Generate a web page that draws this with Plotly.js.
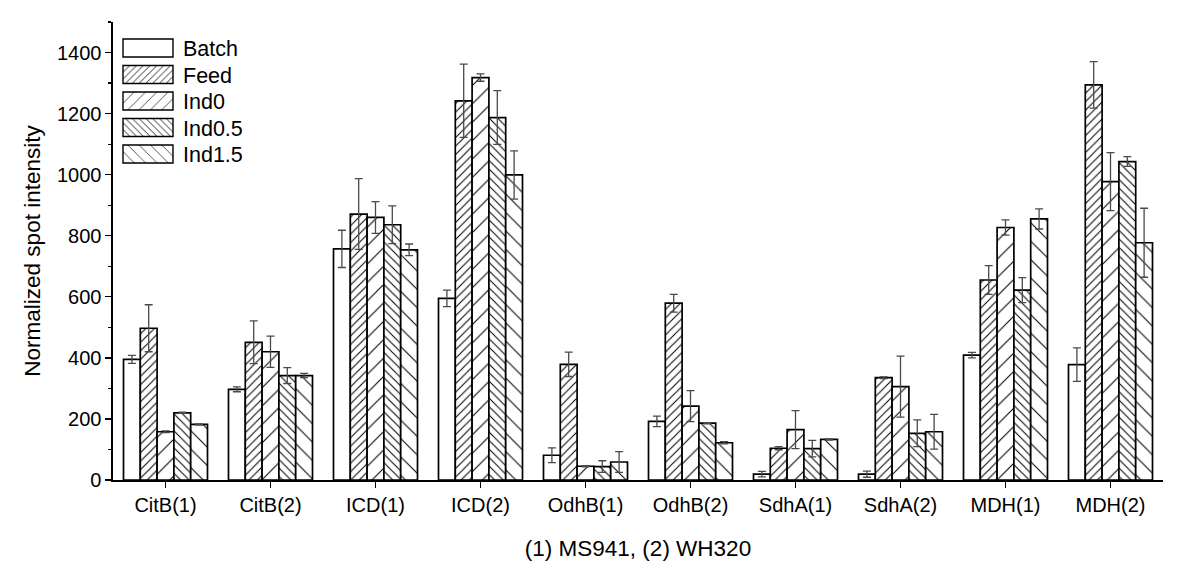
<!DOCTYPE html>
<html>
<head>
<meta charset="utf-8">
<script src="https://cdn.plot.ly/plotly-3.0.1.min.js"></script>
<style>html,body{margin:0;padding:0;background:#fff;}#chart{width:1200px;height:582px;}</style>
</head>
<body>
<div id="chart"></div>
<script>
const categories = ["CitB(1)","CitB(2)","ICD(1)","ICD(2)","OdhB(1)","OdhB(2)","SdhA(1)","SdhA(2)","MDH(1)","MDH(2)"];
const seriesNames = ["Batch","Feed","Ind0","Ind0.5","Ind1.5"];

const batch     = [395, 297, 757, 595, 81, 192, 19, 19, 409, 378];
const batchErr  = [13, 8, 61, 27, 24, 17, 9, 10, 9, 55];
const feed      = [497, 451, 871, 1242, 379, 579, 104, 335, 655, 1294];
const feedErr   = [77, 70, 116, 120, 40, 29, 5, 3, 47, 76];
const ind0      = [158, 420, 860, 1318, 45, 242, 165, 306, 827, 977];
const ind0Err   = [3, 51, 52, 12, 2, 51, 62, 100, 25, 95];
const ind05     = [220, 342, 836, 1187, 44, 186, 103, 153, 622, 1043];
const ind05Err  = [2, 26, 62, 88, 19, 2, 27, 44, 41, 16];
const ind15     = [182, 342, 754, 999, 59, 122, 133, 158, 855, 777];
const ind15Err  = [2, 7, 19, 79, 34, 4, 2, 57, 33, 113];

const values = [batch, feed, ind0, ind05, ind15];
const errors = [batchErr, feedErr, ind0Err, ind05Err, ind15Err];
const patterns = [
  {shape: "", size: 6, solidity: 0.15},
  {shape: "/", size: 6, solidity: 0.17},
  {shape: "/", size: 13, solidity: 0.08},
  {shape: "\\", size: 6, solidity: 0.17},
  {shape: "\\", size: 13, solidity: 0.08}
];

const FONT = "Liberation Sans, Arial, sans-serif";

const traces = seriesNames.map((name, i) => ({
  type: "bar",
  name: name,
  x: categories,
  y: values[i],
  error_y: {type: "data", array: errors[i], visible: true, color: "#4a4a4a", thickness: 1.3, width: 4},
  marker: {
    color: "#ffffff",
    line: {color: "#000000", width: 1.7},
    pattern: {shape: patterns[i].shape, size: patterns[i].size, solidity: patterns[i].solidity, fgcolor: "#000000", bgcolor: "#ffffff", fillmode: "replace"}
  }
}));

const layout = {
  width: 1200, height: 582,
  margin: {l: 113, r: 37, t: 22, b: 102},
  paper_bgcolor: "#ffffff", plot_bgcolor: "#ffffff",
  font: {family: FONT, color: "#000000", size: 20},
  barmode: "group", bargap: 0.2, bargroupgap: 0,
  showlegend: true,
  legend: {
    x: 0.0, y: 0.975, xanchor: "left", yanchor: "top",
    bgcolor: "rgba(0,0,0,0)", borderwidth: 0,
    font: {family: FONT, size: 21.5, color: "#000"},
    itemwidth: 60, tracegroupgap: 0,
    traceorder: "normal"
  },
  xaxis: {
    type: "category",
    range: [-0.5, 9.5],
    showline: true, linecolor: "#000", linewidth: 1.6,
    ticks: "outside", ticklen: 6, tickwidth: 1.4, tickcolor: "#000",
    showgrid: false, zeroline: false,
    tickfont: {family: FONT, size: 20},
    title: {text: "(1) MS941, (2) WH320", font: {family: FONT, size: 22.5}, standoff: 25}
  },
  yaxis: {
    range: [0, 1500],
    dtick: 200, tick0: 0,
    showline: true, linecolor: "#000", linewidth: 1.6,
    ticks: "outside", ticklen: 6, tickwidth: 1.4, tickcolor: "#000",
    minor: {dtick: 100, ticks: "outside", ticklen: 3, tickwidth: 1.2, tickcolor: "#000", showgrid: false},
    showgrid: false, zeroline: false,
    tickfont: {family: FONT, size: 20},
    title: {text: "Normalized spot intensity", font: {family: FONT, size: 22.5}, standoff: 10}
  }
};

Plotly.newPlot("chart", traces, layout, {displayModeBar: false, staticPlot: true}).then(gd => {
  // enlarge legend swatches to rectangular boxes like the reference
  gd.querySelectorAll(".legend .legendpoints path").forEach(p => {
    p.setAttribute("d", "M-25,-9H25V9H-25Z");
    p.style.strokeWidth = "1.4px";
    p.style.stroke = "#000";
  });
  // tighten legend row spacing to match the reference
  const items = gd.querySelectorAll(".legend .traces");
  if (items.length) {
    const m0 = /translate\(\s*([-\d.]+)[ ,]+([-\d.]+)\s*\)/.exec(items[0].getAttribute("transform") || "");
    const x0 = m0 ? parseFloat(m0[1]) : 0;
    const y0 = m0 ? parseFloat(m0[2]) - 6 : 0;
    items.forEach((g, i) => {
      g.setAttribute("transform", "translate(" + x0 + "," + (y0 + i * 26.5) + ")");
    });
  }
});
</script>
</body>
</html>
